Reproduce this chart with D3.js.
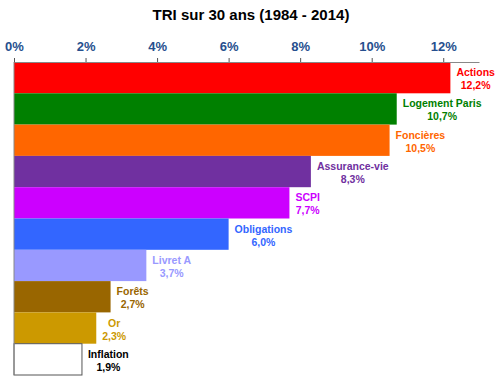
<!doctype html>
<html>
<head>
<meta charset="UTF-8">
<title>TRI sur 30 ans</title>
<style>
  body { margin: 0; background: #fff; }
  svg { display: block; font-family: "Liberation Sans", Arial, sans-serif; }
</style>
</head>
<body>
<div id="chart"></div>
<script src="https://cdn.jsdelivr.net/npm/d3@7"></script>
<script>
  var categories = ["Actions", "Logement Paris", "Foncières", "Assurance-vie", "SCPI",
                    "Obligations", "Livret A", "Forêts", "Or", "Inflation"];
  var values = [12.2, 10.7, 10.5, 8.3, 7.7, 6.0, 3.7, 2.7, 2.3, 1.9];
  var barColors = ["#ff0000", "#008000", "#ff6600", "#7030a0", "#cc00ff",
                   "#3366ff", "#9999ff", "#996600", "#cc9900", "#ffffff"];
  var textColors = ["#ff0000", "#008000", "#ff6600", "#7030a0", "#cc00ff",
                    "#3366ff", "#9999ff", "#996600", "#cc9900", "#000000"];
  var tickValues = [0, 2, 4, 6, 8, 10, 12];

  var width = 500, height = 385;

  var svg = d3.select("#chart").append("svg")
    .attr("width", width)
    .attr("height", height);

  var x = d3.scaleLinear().domain([0, 13]).range([14, 479]);
  var y = d3.scaleBand().domain(categories).range([62, 375]).padding(0);

  svg.append("text")
    .attr("x", 251)
    .attr("y", 20)
    .attr("text-anchor", "middle")
    .style("font-size", "15px")
    .style("font-weight", "bold")
    .text("TRI sur 30 ans (1984 - 2014)");

  // bars
  svg.selectAll("rect.bar")
    .data(values)
    .enter().append("rect")
    .attr("class", "bar")
    .attr("x", x(0))
    .attr("y", function(d, i) { return y(categories[i]); })
    .attr("width", function(d) { return x(d) - x(0); })
    .attr("height", y.bandwidth())
    .attr("fill", function(d, i) { return barColors[i]; })
    .attr("stroke", function(d, i) { return i == categories.length - 1 ? "#555" : "none"; })
    .attr("stroke-width", 1);

  // axis on top
  var axis = svg.append("g")
    .attr("transform", "translate(0,62)")
    .call(d3.axisTop(x)
      .tickValues(tickValues)
      .tickSize(4)
      .tickSizeOuter(0)
      .tickPadding(7)
      .tickFormat(function(d) { return d + "%"; }));
  axis.select(".domain").attr("stroke", "#888");
  axis.selectAll(".tick line").attr("stroke", "#555");
  axis.selectAll(".tick text")
    .attr("fill", "#264f8e")
    .style("font-size", "13px")
    .style("font-weight", "bold")
    .style("font-family", "'Liberation Sans', Arial, sans-serif");

  // left axis line
  svg.append("line")
    .attr("x1", x(0)).attr("x2", x(0))
    .attr("y1", y.range()[0]).attr("y2", y.range()[1])
    .attr("stroke", "#888");

  // labels
  var labels = svg.selectAll("g.lbl")
    .data(values)
    .enter().append("g")
    .attr("class", "lbl")
    .style("font-size", "10.5px")
    .style("font-weight", "bold")
    .attr("fill", function(d, i) { return textColors[i]; });

  labels.each(function(d, i) {
    var g = d3.select(this);
    var cy = y(categories[i]) + y.bandwidth() / 2;
    var t1 = g.append("text").attr("y", cy - 1.5).text(categories[i]);
    var t2 = g.append("text").attr("y", cy + 11.5)
      .text(d3.format(".1f")(d).replace(".", ",") + "%");
    var w = Math.max(t1.node().getComputedTextLength(), t2.node().getComputedTextLength());
    var cx = x(d) + 6 + w / 2;
    t1.attr("x", cx).attr("text-anchor", "middle");
    t2.attr("x", cx).attr("text-anchor", "middle");
  });
</script>
</body>
</html>
